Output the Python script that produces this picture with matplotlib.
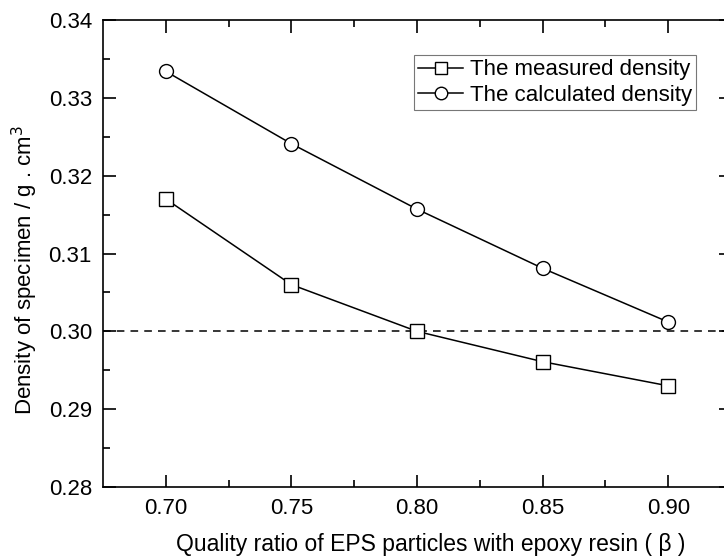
import matplotlib.pyplot as plt

plt.rcParams['font.family'] = ['Liberation Sans', 'DejaVu Sans']

ratio = [0.70, 0.75, 0.80, 0.85, 0.90]
measured = [0.3170, 0.3060, 0.3000, 0.2961, 0.2930]
calculated = [0.3334, 0.3241, 0.3157, 0.3081, 0.3012]
ref_density = 0.30

fig = plt.figure(figsize=(7.24, 5.57), dpi=100)
# right spine sits just past the image edge in the reference
ax = fig.add_axes([103 / 724, 1 - 487 / 557, 628 / 724, 467 / 557])

ax.axhline(ref_density, color='black', lw=1.1, ls=(0, (5, 4)))
ax.plot(ratio, measured, color='black', lw=1.1, marker='s', ms=9.5,
        mfc='white', mec='black', mew=1.0, label='The measured density')
ax.plot(ratio, calculated, color='black', lw=1.1, marker='o', ms=10,
        mfc='white', mec='black', mew=1.0, label='The calculated density')

ax.set_xlim(0.675, 0.925)
ax.set_ylim(0.28, 0.34)
ax.set_xticks(ratio)
ax.set_xticks([0.725, 0.775, 0.825, 0.875, 0.925], minor=True)
ax.set_yticks([0.28, 0.29, 0.30, 0.31, 0.32, 0.33, 0.34])
ax.set_yticks([0.285, 0.295, 0.305, 0.315, 0.325, 0.335], minor=True)
ax.xaxis.set_major_formatter(plt.FormatStrFormatter('%.2f'))
ax.yaxis.set_major_formatter(plt.FormatStrFormatter('%.2f'))
ax.tick_params(which='both', direction='in', top=True, right=True,
               labelsize=16, width=1.2, pad=8)
ax.tick_params(which='major', length=9)
ax.tick_params(which='minor', length=5)
for s in ax.spines.values():
    s.set_linewidth(1.2)

ax.set_xlabel('Quality ratio of EPS particles with epoxy resin ( β )',
              fontsize=16.5)
ax.set_ylabel('Density of specimen / g . cm$^3$', fontsize=16)
ax.xaxis.set_label_coords(0.522, -0.099)
ax.yaxis.set_label_coords(-0.100, 0.465)

leg = ax.legend(loc='upper left', bbox_to_anchor=(311 / 628, 1 - 35 / 467),
                fontsize=16, frameon=True, fancybox=False,
                borderpad=0.2, handlelength=2.0, handletextpad=0.3,
                labelspacing=0.2, borderaxespad=0, markerscale=0.9)
leg.get_frame().set_edgecolor('#555555')
leg.get_frame().set_linewidth(0.8)

fig.savefig('out.png', dpi=100)
